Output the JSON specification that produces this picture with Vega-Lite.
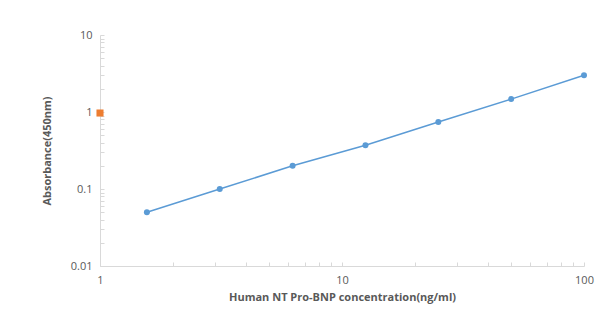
{
  "$schema": "https://vega.github.io/schema/vega-lite/v6.json",
  "width": 484,
  "height": 231,
  "autosize": {"type": "none"},
  "padding": {"left": 100, "top": 35, "right": 23, "bottom": 60},
  "background": "white",
  "config": {
    "view": {"stroke": null},
    "axis": {
      "labelFont": "Open Sans",
      "titleFont": "Open Sans",
      "labelColor": "#595959",
      "titleColor": "#595959",
      "labelFontSize": 11,
      "titleFontSize": 11,
      "domainColor": "#d9d9d9",
      "tickColor": "#d9d9d9",
      "grid": false
    }
  },
  "datasets": {
    "curve": [
      {"conc": 1.5625, "od": 0.05},
      {"conc": 3.125, "od": 0.1},
      {"conc": 6.25, "od": 0.2},
      {"conc": 12.5, "od": 0.37},
      {"conc": 25, "od": 0.74},
      {"conc": 50, "od": 1.47},
      {"conc": 100, "od": 3.0}
    ],
    "blank": [
      {"conc": 1, "od": 0.97}
    ]
  },
  "encoding": {
    "x": {
      "field": "conc", "type": "quantitative",
      "scale": {"type": "log", "domain": [1, 100], "nice": false},
      "axis": {
        "title": "Human NT Pro-BNP concentration(ng/ml)",
        "titleFontWeight": "bold",
        "titlePadding": 6,
        "values": [1,2,3,4,5,6,7,8,9,10,20,30,40,50,60,70,80,90,100],
        "labelExpr": "indexof([1,10,100], datum.value) >= 0 ? datum.label : ''",
        "tickSize": -4,
        "labelPadding": 12,
        "labelFlush": false
      }
    },
    "y": {
      "field": "od", "type": "quantitative",
      "scale": {"type": "log", "domain": [0.01, 10], "nice": false},
      "axis": {
        "title": "Absorbance(450nm)",
        "titleFontWeight": "bold",
        "titlePadding": 18,
        "values": [0.01,0.02,0.03,0.04,0.05,0.06,0.07,0.08,0.09,0.1,0.2,0.3,0.4,0.5,0.6,0.7,0.8,0.9,1,2,3,4,5,6,7,8,9,10],
        "labelExpr": "indexof([0.01,0.1,1,10], datum.value) >= 0 ? datum.label : ''",
        "tickSize": -4,
        "labelPadding": 12,
        "labelFlush": false
      }
    }
  },
  "layer": [
    {
      "data": {"name": "curve"},
      "mark": {"type": "line", "color": "#5B9BD5", "strokeWidth": 1.5}
    },
    {
      "data": {"name": "curve"},
      "mark": {"type": "circle", "color": "#5B9BD5", "size": 36, "opacity": 1}
    },
    {
      "data": {"name": "blank"},
      "mark": {"type": "square", "color": "#ED7D31", "size": 50, "opacity": 1, "clip": false}
    }
  ]
}
